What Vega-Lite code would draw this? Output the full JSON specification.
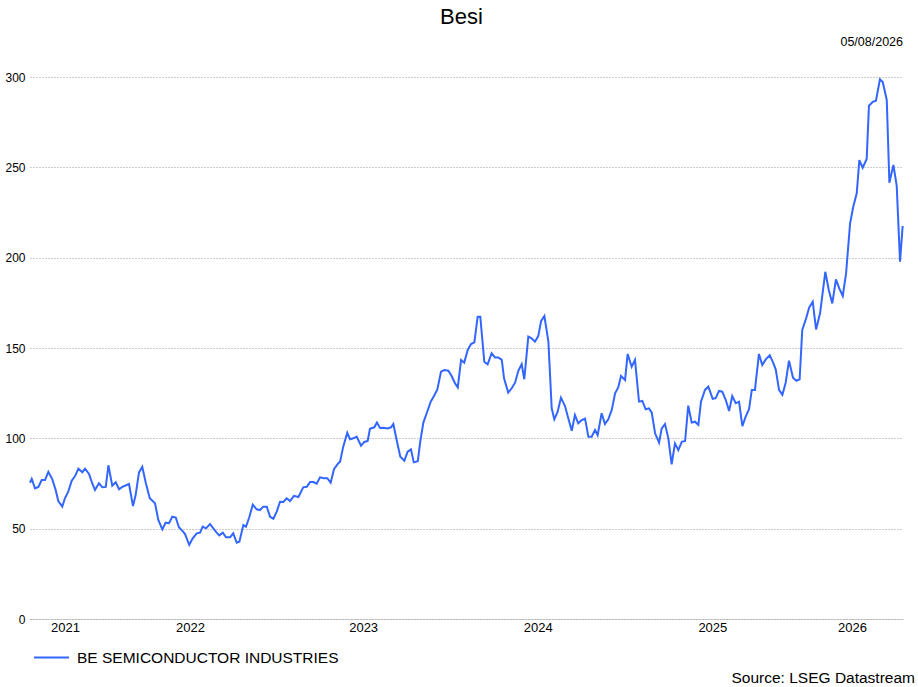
{
  "$schema": "https://vega.github.io/schema/vega-lite/v6.json",
  "description": "Besi share price, weekly, Aug 2021 - Aug 2026",
  "autosize": "none",
  "width": 873,
  "height": 542,
  "padding": {"left": 30, "top": 77, "right": 15, "bottom": 68},
  "background": "white",
  "title": {
    "text": "Besi",
    "font": "Liberation Sans",
    "fontSize": 22,
    "fontWeight": "normal",
    "color": "#000000",
    "anchor": "middle",
    "dx": -5,
    "offset": 7
  },
  "config": {
    "view": {"stroke": null},
    "font": "Liberation Sans"
  },
  "layer": [
    {
      "data": {
        "values": [
          {"t": 2021.592, "v": 75.4}, {"t": 2021.602, "v": 77.5}, {"t": 2021.621, "v": 72.3}, {"t": 2021.640, "v": 73.1},
          {"t": 2021.659, "v": 76.9}, {"t": 2021.678, "v": 76.9}, {"t": 2021.697, "v": 81.5}, {"t": 2021.720, "v": 77.3},
          {"t": 2021.739, "v": 71.4}, {"t": 2021.754, "v": 65.3}, {"t": 2021.777, "v": 62.2}, {"t": 2021.792, "v": 66.8},
          {"t": 2021.811, "v": 70.5}, {"t": 2021.831, "v": 76.5}, {"t": 2021.850, "v": 79.1}, {"t": 2021.869, "v": 83.2},
          {"t": 2021.892, "v": 81.2}, {"t": 2021.907, "v": 83.2}, {"t": 2021.930, "v": 80.3}, {"t": 2021.945, "v": 76.0},
          {"t": 2021.964, "v": 71.4}, {"t": 2021.987, "v": 75.1}, {"t": 2022.006, "v": 72.9}, {"t": 2022.026, "v": 73.1},
          {"t": 2022.041, "v": 85.1}, {"t": 2022.063, "v": 73.8}, {"t": 2022.083, "v": 75.7}, {"t": 2022.102, "v": 71.8},
          {"t": 2022.121, "v": 73.1}, {"t": 2022.159, "v": 74.7}, {"t": 2022.182, "v": 62.5}, {"t": 2022.197, "v": 68.6},
          {"t": 2022.216, "v": 81.0}, {"t": 2022.235, "v": 84.3}, {"t": 2022.255, "v": 75.4}, {"t": 2022.278, "v": 66.8},
          {"t": 2022.308, "v": 64.0}, {"t": 2022.327, "v": 54.8}, {"t": 2022.350, "v": 49.6}, {"t": 2022.369, "v": 53.3},
          {"t": 2022.388, "v": 53.0}, {"t": 2022.407, "v": 56.6}, {"t": 2022.427, "v": 56.1}, {"t": 2022.445, "v": 50.8},
          {"t": 2022.470, "v": 48.2}, {"t": 2022.480, "v": 47.0}, {"t": 2022.504, "v": 41.0}, {"t": 2022.524, "v": 44.7},
          {"t": 2022.547, "v": 47.4}, {"t": 2022.566, "v": 47.8}, {"t": 2022.581, "v": 51.1}, {"t": 2022.600, "v": 50.2},
          {"t": 2022.623, "v": 52.6}, {"t": 2022.642, "v": 50.2}, {"t": 2022.661, "v": 47.8}, {"t": 2022.676, "v": 46.3},
          {"t": 2022.696, "v": 47.8}, {"t": 2022.715, "v": 45.2}, {"t": 2022.738, "v": 45.2}, {"t": 2022.756, "v": 47.4},
          {"t": 2022.776, "v": 42.2}, {"t": 2022.791, "v": 42.8}, {"t": 2022.814, "v": 52.0}, {"t": 2022.829, "v": 51.1},
          {"t": 2022.848, "v": 56.3}, {"t": 2022.868, "v": 63.3}, {"t": 2022.890, "v": 60.7}, {"t": 2022.909, "v": 60.3},
          {"t": 2022.928, "v": 62.2}, {"t": 2022.948, "v": 62.2}, {"t": 2022.967, "v": 56.6}, {"t": 2022.986, "v": 55.5},
          {"t": 2023.005, "v": 59.4}, {"t": 2023.024, "v": 64.9}, {"t": 2023.043, "v": 64.8}, {"t": 2023.062, "v": 66.8},
          {"t": 2023.081, "v": 65.3}, {"t": 2023.104, "v": 68.2}, {"t": 2023.129, "v": 67.5}, {"t": 2023.157, "v": 72.9},
          {"t": 2023.177, "v": 73.2}, {"t": 2023.196, "v": 75.8}, {"t": 2023.215, "v": 75.8}, {"t": 2023.234, "v": 74.9},
          {"t": 2023.253, "v": 78.4}, {"t": 2023.276, "v": 77.9}, {"t": 2023.295, "v": 77.9}, {"t": 2023.314, "v": 75.4},
          {"t": 2023.333, "v": 82.9}, {"t": 2023.358, "v": 86.2}, {"t": 2023.368, "v": 87.1}, {"t": 2023.386, "v": 95.4},
          {"t": 2023.409, "v": 103.1}, {"t": 2023.425, "v": 99.5}, {"t": 2023.444, "v": 100.0}, {"t": 2023.463, "v": 100.9},
          {"t": 2023.488, "v": 95.9}, {"t": 2023.507, "v": 98.0}, {"t": 2023.526, "v": 98.5}, {"t": 2023.539, "v": 105.3},
          {"t": 2023.564, "v": 106.1}, {"t": 2023.579, "v": 108.7}, {"t": 2023.597, "v": 105.7}, {"t": 2023.616, "v": 105.9},
          {"t": 2023.641, "v": 105.5}, {"t": 2023.660, "v": 106.1}, {"t": 2023.673, "v": 107.9}, {"t": 2023.694, "v": 98.1},
          {"t": 2023.713, "v": 89.8}, {"t": 2023.736, "v": 87.6}, {"t": 2023.755, "v": 92.6}, {"t": 2023.774, "v": 93.9},
          {"t": 2023.790, "v": 86.7}, {"t": 2023.813, "v": 87.3}, {"t": 2023.827, "v": 98.1}, {"t": 2023.845, "v": 108.7},
          {"t": 2023.864, "v": 113.9}, {"t": 2023.887, "v": 120.3}, {"t": 2023.906, "v": 123.4}, {"t": 2023.925, "v": 127.1},
          {"t": 2023.946, "v": 136.9}, {"t": 2023.965, "v": 137.8}, {"t": 2023.988, "v": 137.4}, {"t": 2024.007, "v": 134.5},
          {"t": 2024.026, "v": 130.5}, {"t": 2024.042, "v": 128.2}, {"t": 2024.061, "v": 143.4}, {"t": 2024.079, "v": 141.9},
          {"t": 2024.099, "v": 148.9}, {"t": 2024.118, "v": 152.2}, {"t": 2024.137, "v": 153.1}, {"t": 2024.156, "v": 167.3},
          {"t": 2024.171, "v": 167.3}, {"t": 2024.194, "v": 142.4}, {"t": 2024.213, "v": 141.0}, {"t": 2024.236, "v": 147.1},
          {"t": 2024.255, "v": 144.8}, {"t": 2024.274, "v": 144.8}, {"t": 2024.294, "v": 143.4}, {"t": 2024.307, "v": 133.2},
          {"t": 2024.331, "v": 125.3}, {"t": 2024.351, "v": 127.7}, {"t": 2024.370, "v": 130.8}, {"t": 2024.389, "v": 137.4},
          {"t": 2024.408, "v": 141.1}, {"t": 2024.423, "v": 132.7}, {"t": 2024.446, "v": 156.3}, {"t": 2024.465, "v": 155.4},
          {"t": 2024.484, "v": 153.5}, {"t": 2024.503, "v": 156.6}, {"t": 2024.519, "v": 164.9}, {"t": 2024.538, "v": 167.7},
          {"t": 2024.561, "v": 153.5}, {"t": 2024.580, "v": 116.6}, {"t": 2024.595, "v": 110.5}, {"t": 2024.614, "v": 114.7},
          {"t": 2024.633, "v": 122.5}, {"t": 2024.656, "v": 117.9}, {"t": 2024.675, "v": 111.1}, {"t": 2024.695, "v": 104.2},
          {"t": 2024.713, "v": 112.9}, {"t": 2024.732, "v": 108.3}, {"t": 2024.752, "v": 110.1}, {"t": 2024.771, "v": 110.9},
          {"t": 2024.790, "v": 100.9}, {"t": 2024.809, "v": 100.9}, {"t": 2024.828, "v": 104.6}, {"t": 2024.843, "v": 101.8},
          {"t": 2024.866, "v": 113.9}, {"t": 2024.885, "v": 107.9}, {"t": 2024.904, "v": 110.5}, {"t": 2024.924, "v": 115.7},
          {"t": 2024.943, "v": 124.9}, {"t": 2024.961, "v": 128.2}, {"t": 2024.977, "v": 134.5}, {"t": 2025.000, "v": 132.3},
          {"t": 2025.015, "v": 146.7}, {"t": 2025.038, "v": 139.6}, {"t": 2025.057, "v": 143.4}, {"t": 2025.080, "v": 120.3},
          {"t": 2025.099, "v": 120.7}, {"t": 2025.118, "v": 116.1}, {"t": 2025.137, "v": 116.6}, {"t": 2025.153, "v": 114.2},
          {"t": 2025.172, "v": 102.8}, {"t": 2025.195, "v": 97.6}, {"t": 2025.210, "v": 105.5}, {"t": 2025.229, "v": 107.9},
          {"t": 2025.248, "v": 100.0}, {"t": 2025.267, "v": 85.6}, {"t": 2025.286, "v": 97.2}, {"t": 2025.305, "v": 93.5},
          {"t": 2025.325, "v": 98.1}, {"t": 2025.344, "v": 98.5}, {"t": 2025.362, "v": 118.1}, {"t": 2025.382, "v": 108.7},
          {"t": 2025.401, "v": 109.2}, {"t": 2025.420, "v": 107.4}, {"t": 2025.435, "v": 120.3}, {"t": 2025.458, "v": 126.8},
          {"t": 2025.477, "v": 128.6}, {"t": 2025.502, "v": 121.9}, {"t": 2025.519, "v": 122.2}, {"t": 2025.538, "v": 126.2},
          {"t": 2025.557, "v": 125.8}, {"t": 2025.577, "v": 121.2}, {"t": 2025.596, "v": 115.1}, {"t": 2025.614, "v": 123.4},
          {"t": 2025.634, "v": 119.4}, {"t": 2025.653, "v": 120.3}, {"t": 2025.672, "v": 106.8}, {"t": 2025.691, "v": 112.0},
          {"t": 2025.710, "v": 116.1}, {"t": 2025.726, "v": 126.8}, {"t": 2025.744, "v": 126.8}, {"t": 2025.767, "v": 146.7},
          {"t": 2025.786, "v": 140.6}, {"t": 2025.806, "v": 143.7}, {"t": 2025.829, "v": 146.0}, {"t": 2025.848, "v": 141.9},
          {"t": 2025.863, "v": 138.2}, {"t": 2025.882, "v": 126.8}, {"t": 2025.901, "v": 124.1}, {"t": 2025.920, "v": 130.8},
          {"t": 2025.939, "v": 143.0}, {"t": 2025.962, "v": 133.6}, {"t": 2025.981, "v": 131.9}, {"t": 2026.000, "v": 132.7},
          {"t": 2026.015, "v": 160.0}, {"t": 2026.037, "v": 166.4}, {"t": 2026.055, "v": 172.5}, {"t": 2026.075, "v": 175.6},
          {"t": 2026.094, "v": 160.3}, {"t": 2026.117, "v": 169.2}, {"t": 2026.147, "v": 192.2}, {"t": 2026.167, "v": 182.1},
          {"t": 2026.187, "v": 174.7}, {"t": 2026.208, "v": 188.0}, {"t": 2026.227, "v": 183.0}, {"t": 2026.247, "v": 178.8},
          {"t": 2026.266, "v": 191.3}, {"t": 2026.289, "v": 219.0}, {"t": 2026.307, "v": 228.2}, {"t": 2026.327, "v": 235.6},
          {"t": 2026.342, "v": 254.0}, {"t": 2026.361, "v": 249.8}, {"t": 2026.384, "v": 254.6}, {"t": 2026.397, "v": 284.1},
          {"t": 2026.419, "v": 286.3}, {"t": 2026.437, "v": 286.9}, {"t": 2026.460, "v": 298.7}, {"t": 2026.476, "v": 297.2},
          {"t": 2026.499, "v": 287.3}, {"t": 2026.514, "v": 241.5}, {"t": 2026.537, "v": 251.3}, {"t": 2026.556, "v": 239.7},
          {"t": 2026.575, "v": 197.8}, {"t": 2026.590, "v": 217.5}
        ]
      },
      "mark": {"type": "line", "strokeWidth": 2, "interpolate": "linear"},
      "encoding": {
        "x": {
          "field": "t",
          "type": "quantitative",
          "scale": {"domain": [2021.592, 2026.592], "nice": false, "zero": false},
          "axis": {
            "title": null,
            "values": [2021.792, 2022.508, 2023.5, 2024.5, 2025.5, 2026.3],
            "labelExpr": "floor(datum.value)",
            "labelFont": "Liberation Sans",
            "labelFontSize": 13,
            "labelColor": "#000000",
            "labelPadding": 2,
            "labelFlush": false,
            "ticks": false,
            "grid": false,
            "domain": true,
            "domainColor": "#aaaaaa",
            "domainDash": [1, 1],
            "domainWidth": 1
          }
        },
        "y": {
          "field": "v",
          "type": "quantitative",
          "scale": {"domain": [0, 300], "nice": false},
          "axis": {
            "title": null,
            "values": [0, 50, 100, 150, 200, 250, 300],
            "labelFont": "Liberation Sans",
            "labelFontSize": 12,
            "labelColor": "#000000",
            "labelPadding": 5,
            "ticks": false,
            "domain": false,
            "grid": true,
            "gridColor": "#999999",
            "gridDash": [1, 2],
            "gridWidth": 1
          }
        },
        "color": {
          "datum": "BE SEMICONDUCTOR INDUSTRIES",
          "type": "nominal",
          "scale": {"range": ["#3366ff"]},
          "legend": {
            "title": null,
            "orient": "none",
            "legendX": 3,
            "legendY": 562,
            "symbolType": "stroke",
            "symbolSize": 1225,
            "symbolStrokeWidth": 2,
            "labelFont": "Liberation Sans",
            "labelFontSize": 15.5,
            "labelColor": "#000000",
            "labelOffset": 7,
            "labelLimit": 400
          }
        }
      }
    },
    {
      "data": {"values": [{"label": "05/08/2026"}]},
      "mark": {"type": "text", "align": "right", "baseline": "middle", "dy": -35, "fontSize": 12.5, "font": "Liberation Sans", "color": "#000000"},
      "encoding": {
        "x": {"datum": 2026.592, "type": "quantitative"},
        "y": {"datum": 300, "type": "quantitative"},
        "text": {"field": "label"}
      }
    },
    {
      "data": {"values": [{"label": "Source: LSEG Datastream"}]},
      "mark": {"type": "text", "align": "right", "baseline": "middle", "dx": 12, "dy": 59, "fontSize": 15.5, "font": "Liberation Sans", "color": "#000000"},
      "encoding": {
        "x": {"datum": 2026.592, "type": "quantitative"},
        "y": {"datum": 0, "type": "quantitative"},
        "text": {"field": "label"}
      }
    }
  ]
}
